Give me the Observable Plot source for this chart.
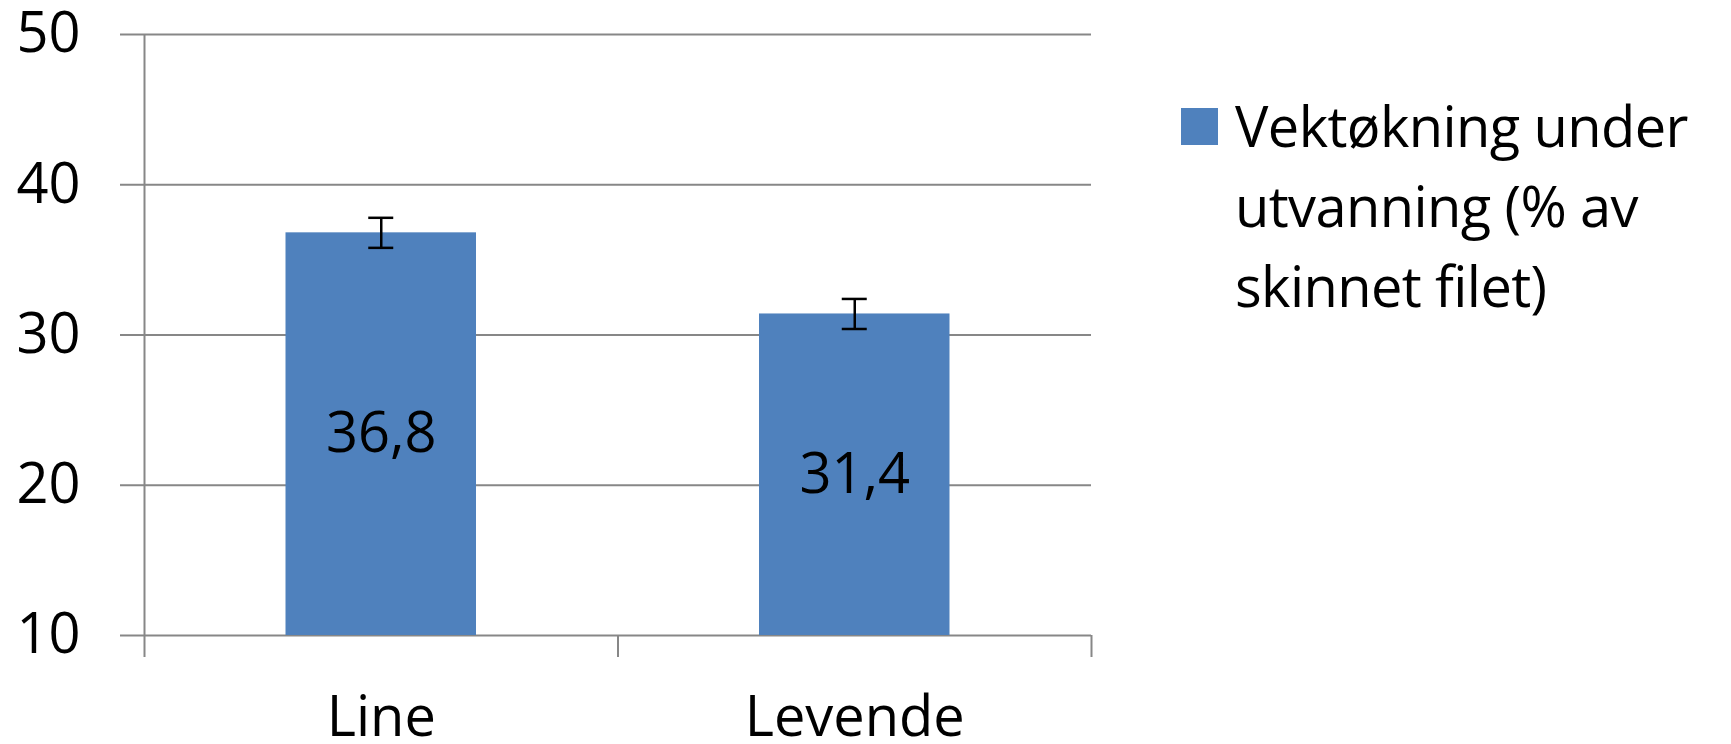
<!DOCTYPE html>
<html>
<head>
<meta charset="utf-8">
<script src="https://cdn.jsdelivr.net/npm/d3@7"></script>
<script src="https://cdn.jsdelivr.net/npm/@observablehq/plot@0.6"></script>
<style>
  html, body { margin: 0; padding: 0; background: #fff; }
  #wrap { position: relative; width: 1731px; height: 744px; font-family: "Open Sans", sans-serif; }
  #legend { position: absolute; left: 1181px; top: 85px; display: flex; align-items: flex-start; }
  #legend .sw { width: 37px; height: 37px; background: #4f81bd; margin-top: 23px; flex: none; }
  #legend .lab { margin-left: 17px; font-size: 56px; line-height: 80px; letter-spacing: -0.6px; color: #000; white-space: nowrap; }
</style>
</head>
<body>
<div id="wrap"></div>
<script>
const categories = ["Line", "Levende"];
const values = [36.8, 31.4];
const errors = [1.0, 1.0];
const yTicks = [10, 20, 30, 40, 50];
const yDomain = [10, 50];
const seriesName = ["Vektøkning under", "utvanning (% av", "skinnet filet)"];
const barColor = "#4f81bd";
const axisColor = "#878787";

const data = categories.map((c, i) => ({cat: c, i, value: values[i], err: errors[i]}));

const chart = Plot.plot({
  width: 1160,
  height: 744,
  marginTop: 34,
  marginBottom: 109,
  marginLeft: 144,
  marginRight: 69,
  style: {fontFamily: "Open Sans", color: "#000", background: "#fff"},
  x: {domain: [0, categories.length]},
  y: {domain: yDomain},
  marks: [
    Plot.gridY(yTicks, {stroke: axisColor, strokeOpacity: 1, strokeWidth: 2}),
    Plot.axisY(yTicks, {label: null, tickSize: 24, tickPadding: 40, stroke: axisColor, strokeWidth: 2, fill: "#000", fontSize: 56, tickFormat: d => String(d)}),
    Plot.ruleX([0], {stroke: axisColor, strokeWidth: 2}),
    Plot.axisX(d3.range(categories.length + 1), {label: null, tickSize: 22, stroke: axisColor, strokeWidth: 2, tickFormat: () => ""}),
    Plot.axisX(data.map(d => d.i + 0.5), {label: null, tickSize: 0, tickPadding: 61, fontSize: 56, fill: "#000", tickFormat: t => categories[Math.floor(t)]}),
    Plot.rectY(data, {x1: "i", x2: d => d.i + 1, y1: () => yDomain[0], y2: "value", fill: barColor, insetLeft: 141.5, insetRight: 141.5}),
    Plot.ruleX(data, {x: d => d.i + 0.5, y1: d => d.value - d.err, y2: d => d.value + d.err, stroke: "#000", strokeWidth: 2.5}),
    Plot.ruleY(data, {y: d => d.value + d.err, x1: d => d.i + 0.5, x2: d => d.i + 0.5, insetLeft: -12.5, insetRight: -12.5, stroke: "#000", strokeWidth: 2.5}),
    Plot.ruleY(data, {y: d => d.value - d.err, x1: d => d.i + 0.5, x2: d => d.i + 0.5, insetLeft: -12.5, insetRight: -12.5, stroke: "#000", strokeWidth: 2.5}),
    Plot.text(data, {x: d => d.i + 0.5, y: d => (yDomain[0] + d.value) / 2, text: d => String(d.value).replace(".", ","), fontSize: 56, fill: "#000"})
  ]
});

const wrap = document.getElementById("wrap");
wrap.appendChild(chart);
const legend = document.createElement("div");
legend.id = "legend";
const sw = document.createElement("div");
sw.className = "sw";
const lab = document.createElement("div");
lab.className = "lab";
lab.innerHTML = seriesName.map(s => s.replace(/&/g, "&amp;").replace(/</g, "&lt;")).join("<br>");
legend.appendChild(sw);
legend.appendChild(lab);
wrap.appendChild(legend);
</script>
</body>
</html>
